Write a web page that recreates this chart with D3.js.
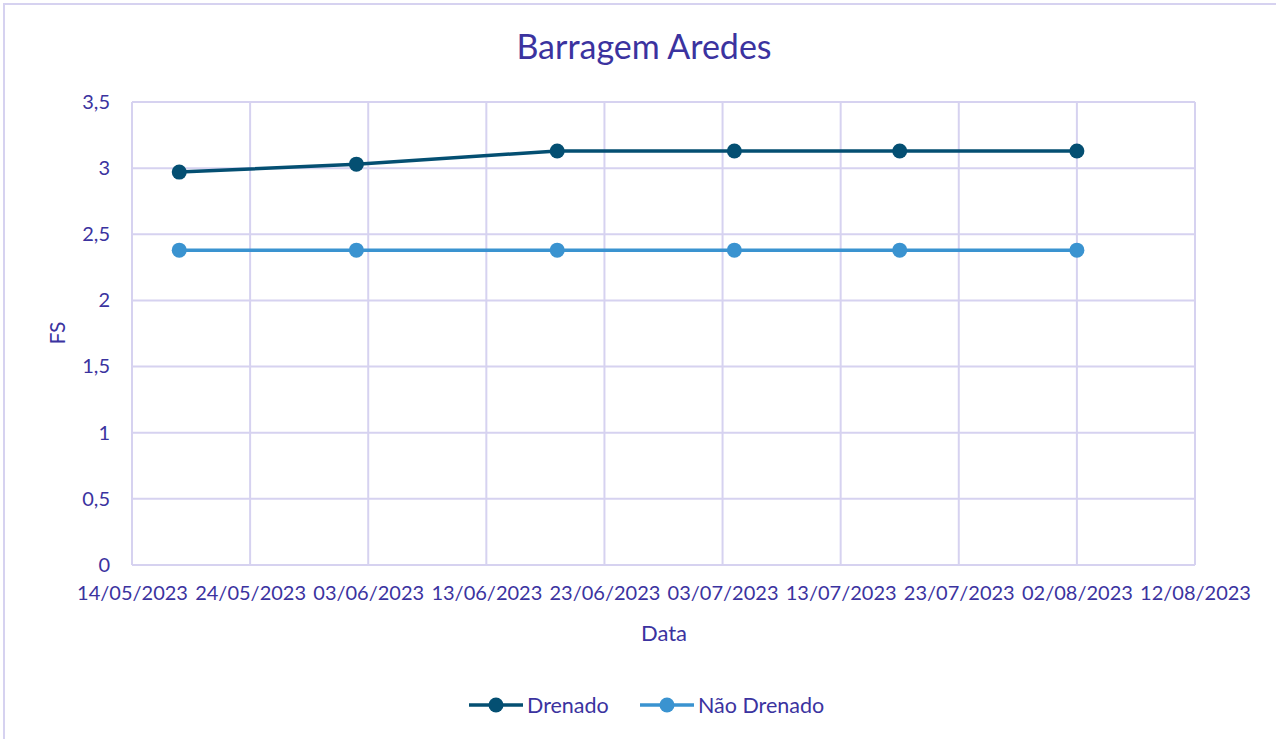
<!DOCTYPE html>
<html>
<head>
<meta charset="utf-8">
<script src="https://cdn.jsdelivr.net/npm/d3@7"></script>
<style>
  html, body { margin: 0; padding: 0; background: #fff; }
  svg { display: block; }
</style>
</head>
<body>
<svg id="chart" width="1276" height="739"></svg>
<script>
// Safety factor (FS) readings for the dam, drained and undrained conditions
const dates = ["2023-05-18", "2023-06-02", "2023-06-19", "2023-07-04", "2023-07-18", "2023-08-02"];
const drenado = [2.97, 3.03, 3.13, 3.13, 3.13, 3.13];
const naoDrenado = [2.38, 2.38, 2.38, 2.38, 2.38, 2.38];
const seriesNames = ["Drenado", "Não Drenado"];
const yTicks = [0, 0.5, 1, 1.5, 2, 2.5, 3, 3.5];
const xTickDates = ["2023-05-14", "2023-05-24", "2023-06-03", "2023-06-13", "2023-06-23",
                    "2023-07-03", "2023-07-13", "2023-07-23", "2023-08-02", "2023-08-12"];

const parse = d3.utcParse("%Y-%m-%d");
const fmt = d3.utcFormat("%d/%m/%Y");
const textColor = "#3b339f";
const gridColor = "#d6d2f0";
const colors = ["#044f72", "#3a93d0"];
const font = "Lato, 'Open Sans', sans-serif";

const svg = d3.select("#chart");
const plot = { left: 132, top: 102, right: 1195, bottom: 565 };

// chart frame
svg.append("path")
  .attr("d", "M4,745 L4,4 L1285,4")
  .attr("fill", "none").attr("stroke", gridColor).attr("stroke-width", 2);

const x = d3.scaleUtc()
  .domain([parse(xTickDates[0]), parse(xTickDates[xTickDates.length - 1])])
  .range([plot.left, plot.right]);
const y = d3.scaleLinear().domain([0, 3.5]).range([plot.bottom, plot.top]);

// gridlines
const grid = svg.append("g");
grid.selectAll("line.h").data(yTicks).join("line")
  .attr("x1", plot.left).attr("x2", plot.right)
  .attr("y1", d => y(d)).attr("y2", d => y(d))
  .attr("stroke", gridColor).attr("stroke-width", 2);
grid.selectAll("line.v").data(xTickDates.map(parse)).join("line")
  .attr("x1", d => x(d)).attr("x2", d => x(d))
  .attr("y1", plot.top).attr("y2", plot.bottom)
  .attr("stroke", gridColor).attr("stroke-width", 2);

// y axis
const yAxis = svg.append("g")
  .attr("transform", `translate(${plot.left},0)`)
  .call(d3.axisLeft(y).tickValues(yTicks).tickSize(0).tickPadding(22)
    .tickFormat(d => String(d).replace(".", ",")));
yAxis.select(".domain").remove();
yAxis.selectAll("text").attr("fill", textColor).attr("font-family", font).attr("font-size", 20);

// x axis
const xAxis = svg.append("g")
  .attr("transform", `translate(0,${plot.bottom})`)
  .call(d3.axisBottom(x).tickValues(xTickDates.map(parse)).tickSize(0).tickPadding(21)
    .tickFormat(fmt));
xAxis.select(".domain").remove();
xAxis.selectAll("text").attr("fill", textColor).attr("font-family", font).attr("font-size", 20);

// titles
svg.append("text").attr("x", 644).attr("y", 59).attr("text-anchor", "middle")
  .attr("fill", textColor).attr("font-family", font).attr("font-size", 34).text("Barragem Aredes");
svg.append("text").attr("x", 664).attr("y", 641).attr("text-anchor", "middle")
  .attr("fill", textColor).attr("font-family", font).attr("font-size", 22).text("Data");
svg.append("text").attr("transform", "translate(65,333) rotate(-90)").attr("text-anchor", "middle")
  .attr("fill", textColor).attr("font-family", font).attr("font-size", 21).text("FS");

// series lines and markers
const series = [drenado, naoDrenado].map((vals, i) => ({
  name: seriesNames[i], color: colors[i],
  points: vals.map((v, j) => ({ date: parse(dates[j]), value: v }))
}));
const line = d3.line().x(d => x(d.date)).y(d => y(d.value));
series.forEach(s => {
  svg.append("path").datum(s.points).attr("d", line)
    .attr("fill", "none").attr("stroke", s.color).attr("stroke-width", 3.5);
  svg.append("g").selectAll("circle").data(s.points).join("circle")
    .attr("cx", d => x(d.date)).attr("cy", d => y(d.value)).attr("r", 7.5)
    .attr("fill", s.color);
});

// legend
const legendX = [469, 640];
const legend = svg.append("g");
series.forEach((s, i) => {
  const g = legend.append("g").attr("transform", `translate(${legendX[i]},705)`);
  g.append("line").attr("x1", 0).attr("x2", 54).attr("stroke", s.color).attr("stroke-width", 3.5);
  g.append("circle").attr("cx", 27).attr("r", 7.5).attr("fill", s.color);
  g.append("text").attr("x", 58).attr("y", 7.5).attr("fill", textColor)
    .attr("font-family", font).attr("font-size", 21.5).text(s.name);
});
</script>
</body>
</html>
